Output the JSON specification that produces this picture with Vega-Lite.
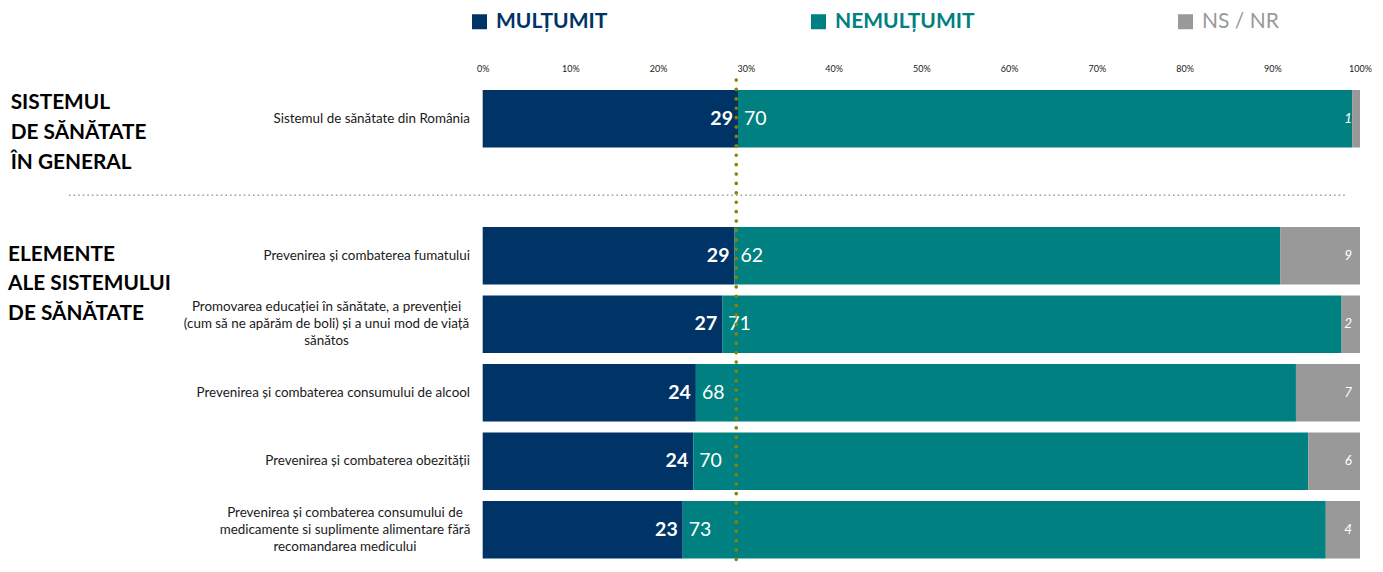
{
  "$schema": "https://vega.github.io/schema/vega-lite/v6.json",
  "autosize": {"type": "none"},
  "width": 1360,
  "height": 488.5,
  "padding": {"left": 0, "top": 80, "right": 23, "bottom": 3.5},
  "background": "white",
  "config": {"view": {"stroke": null}, "font": "Lato"},
  "datasets": {
    "raspunsuri": [
      {"cat": "r1", "raspuns": "MULȚUMIT", "ord": 1, "valoare": 29.1},
      {"cat": "r1", "raspuns": "NEMULȚUMIT", "ord": 2, "valoare": 70.0},
      {"cat": "r1", "raspuns": "NS / NR", "ord": 3, "valoare": 0.9},
      {"cat": "r2", "raspuns": "MULȚUMIT", "ord": 1, "valoare": 28.7},
      {"cat": "r2", "raspuns": "NEMULȚUMIT", "ord": 2, "valoare": 62.2},
      {"cat": "r2", "raspuns": "NS / NR", "ord": 3, "valoare": 9.1},
      {"cat": "r3", "raspuns": "MULȚUMIT", "ord": 1, "valoare": 27.3},
      {"cat": "r3", "raspuns": "NEMULȚUMIT", "ord": 2, "valoare": 70.6},
      {"cat": "r3", "raspuns": "NS / NR", "ord": 3, "valoare": 2.1},
      {"cat": "r4", "raspuns": "MULȚUMIT", "ord": 1, "valoare": 24.3},
      {"cat": "r4", "raspuns": "NEMULȚUMIT", "ord": 2, "valoare": 68.4},
      {"cat": "r4", "raspuns": "NS / NR", "ord": 3, "valoare": 7.3},
      {"cat": "r5", "raspuns": "MULȚUMIT", "ord": 1, "valoare": 24.0},
      {"cat": "r5", "raspuns": "NEMULȚUMIT", "ord": 2, "valoare": 70.1},
      {"cat": "r5", "raspuns": "NS / NR", "ord": 3, "valoare": 5.9},
      {"cat": "r6", "raspuns": "MULȚUMIT", "ord": 1, "valoare": 22.8},
      {"cat": "r6", "raspuns": "NEMULȚUMIT", "ord": 2, "valoare": 73.3},
      {"cat": "r6", "raspuns": "NS / NR", "ord": 3, "valoare": 3.9}
    ],
    "categorii": [
      {"cat": "r1", "eticheta": "Sistemul de sănătate din România"},
      {"cat": "r2", "eticheta": "Prevenirea și combaterea fumatului"},
      {"cat": "r3", "eticheta": "Promovarea educației în sănătate, a prevenției\n(cum să ne apărăm de boli) și a unui mod de viață\nsănătos"},
      {"cat": "r4", "eticheta": "Prevenirea și combaterea consumului de alcool"},
      {"cat": "r5", "eticheta": "Prevenirea și combaterea obezității"},
      {"cat": "r6", "eticheta": "Prevenirea și combaterea consumului de\nmedicamente si suplimente alimentare fără\nrecomandarea medicului"}
    ],
    "grup1": [{"cat": "r1", "titlu": "SISTEMUL\nDE SĂNĂTATE\n\u2002ÎN GENERAL"}],
    "grup2": [{"cat": "r2", "titlu": "ELEMENTE\nALE SISTEMULUI\nDE SĂNĂTATE"}],
    "separator": [{"cat": "sep"}],
    "referinta": [{"valoare": 28.9}]
  },
  "data": {"name": "raspunsuri"},
  "transform": [
    {"stack": "valoare", "groupby": ["cat"], "sort": [{"field": "ord"}], "as": ["x0", "x1"]}
  ],
  "layer": [
    {
      "mark": {"type": "bar"},
      "encoding": {
        "y": {
          "field": "cat", "type": "nominal", "axis": null,
          "scale": {"domain": ["r1", "sep", "r2", "r3", "r4", "r5", "r6"], "paddingInner": 0.1606, "paddingOuter": 0.146}
        },
        "x": {
          "field": "x0", "type": "quantitative",
          "scale": {"domain": [-55.02, 100], "nice": false, "zero": false},
          "axis": {
            "orient": "top", "values": [0, 10, 20, 30, 40, 50, 60, 70, 80, 90, 100],
            "labelExpr": "datum.value + '%'", "title": null, "domain": false, "ticks": false,
            "grid": false, "labelFontSize": 9, "labelPadding": 7, "labelColor": "#222222", "labelFont": "Lato",
            "labelFlush": false, "labelOverlap": false
          }
        },
        "x2": {"field": "x1"},
        "color": {
          "field": "raspuns", "type": "nominal",
          "scale": {"domain": ["MULȚUMIT", "NEMULȚUMIT", "NS / NR"], "range": ["#003366", "#008080", "#999999"]},
          "legend": {
            "orient": "none", "legendX": 469, "legendY": -69, "direction": "horizontal", "title": null,
            "symbolType": "square", "symbolSize": 225, "symbolStrokeWidth": 0, "symbolOpacity": 1,
            "labelFontSize": 21, "labelFont": "Lato", "labelOffset": 6, "columnPadding": 200, "labelLimit": 0,
            "labelColor": {"expr": "datum.label == 'MULȚUMIT' ? '#003366' : datum.label == 'NEMULȚUMIT' ? '#008080' : '#999999'"},
            "labelFontWeight": {"expr": "datum.label == 'NS / NR' ? 'normal' : 'bold'"}
          }
        }
      }
    },
    {
      "transform": [{"filter": "datum.raspuns == 'MULȚUMIT'"}],
      "mark": {"type": "text", "align": "right", "baseline": "middle", "dx": -5, "fontSize": 19.5, "fontWeight": "bold", "color": "white"},
      "encoding": {
        "y": {"field": "cat", "type": "nominal", "axis": null},
        "x": {"field": "x1", "type": "quantitative"},
        "text": {"field": "valoare", "type": "quantitative", "format": ".0f"}
      }
    },
    {
      "transform": [{"filter": "datum.raspuns == 'NEMULȚUMIT'"}],
      "mark": {"type": "text", "align": "left", "baseline": "middle", "dx": 6, "fontSize": 19.5, "color": "white"},
      "encoding": {
        "y": {"field": "cat", "type": "nominal", "axis": null},
        "x": {"field": "x0", "type": "quantitative"},
        "text": {"field": "valoare", "type": "quantitative", "format": ".0f"}
      }
    },
    {
      "transform": [{"filter": "datum.raspuns == 'NS / NR'"}],
      "mark": {"type": "text", "align": "right", "baseline": "middle", "dx": -8, "fontSize": 13.5, "fontStyle": "italic", "color": "white"},
      "encoding": {
        "y": {"field": "cat", "type": "nominal", "axis": null},
        "x": {"field": "x1", "type": "quantitative"},
        "text": {"field": "valoare", "type": "quantitative", "format": ".0f"}
      }
    },
    {
      "data": {"name": "categorii"},
      "transform": [{"filter": {"not": {"field": "cat", "oneOf": ["r3", "r6"]}}}],
      "mark": {"type": "text", "align": "right", "baseline": "middle", "fontSize": 13.4, "color": "#1a1a1a"},
      "encoding": {
        "y": {"field": "cat", "type": "nominal", "axis": null},
        "x": {"datum": -1.45, "type": "quantitative"},
        "text": {"field": "eticheta", "type": "nominal"}
      }
    },
    {
      "data": {"name": "categorii"},
      "transform": [{"filter": {"field": "cat", "equal": "r3"}}],
      "mark": {"type": "text", "align": "center", "baseline": "middle", "dy": -17, "fontSize": 13.4, "lineBreak": "\n", "lineHeight": 17, "color": "#1a1a1a"},
      "encoding": {
        "y": {"field": "cat", "type": "nominal", "axis": null},
        "x": {"datum": -17.8, "type": "quantitative"},
        "text": {"field": "eticheta", "type": "nominal"}
      }
    },
    {
      "data": {"name": "categorii"},
      "transform": [{"filter": {"field": "cat", "equal": "r6"}}],
      "mark": {"type": "text", "align": "center", "baseline": "middle", "dy": -17, "fontSize": 13.4, "lineBreak": "\n", "lineHeight": 17, "color": "#1a1a1a"},
      "encoding": {
        "y": {"field": "cat", "type": "nominal", "axis": null},
        "x": {"datum": -15.7, "type": "quantitative"},
        "text": {"field": "eticheta", "type": "nominal"}
      }
    },
    {
      "data": {"name": "grup1"},
      "mark": {"type": "text", "align": "left", "baseline": "middle", "dy": -15.5, "fontSize": 20.8, "fontWeight": "bold", "lineBreak": "\n", "lineHeight": 30, "color": "#000000"},
      "encoding": {
        "y": {"field": "cat", "type": "nominal", "axis": null},
        "x": {"datum": -53.8, "type": "quantitative"},
        "text": {"field": "titlu", "type": "nominal"}
      }
    },
    {
      "data": {"name": "grup2"},
      "mark": {"type": "text", "align": "left", "baseline": "middle", "dy": -1, "fontSize": 20.8, "fontWeight": "bold", "lineBreak": "\n", "lineHeight": 29.5, "color": "#000000"},
      "encoding": {
        "y": {"field": "cat", "type": "nominal", "axis": null},
        "x": {"datum": -54.1, "type": "quantitative"},
        "text": {"field": "titlu", "type": "nominal"}
      }
    },
    {
      "data": {"name": "separator"},
      "mark": {"type": "rule", "color": "#a0a0a0", "strokeWidth": 1.6, "strokeDash": [1.6, 3.0]},
      "encoding": {
        "y": {"field": "cat", "type": "nominal", "axis": null, "bandPosition": 0.64},
        "x": {"datum": -47.16, "type": "quantitative"},
        "x2": {"datum": 98.5}
      }
    },
    {
      "data": {"name": "referinta"},
      "mark": {"type": "rule", "color": "#8c8200", "strokeWidth": 3.6, "strokeDash": [0.1, 9.3], "strokeCap": "round"},
      "encoding": {
        "x": {"field": "valoare", "type": "quantitative"}
      }
    }
  ]
}
